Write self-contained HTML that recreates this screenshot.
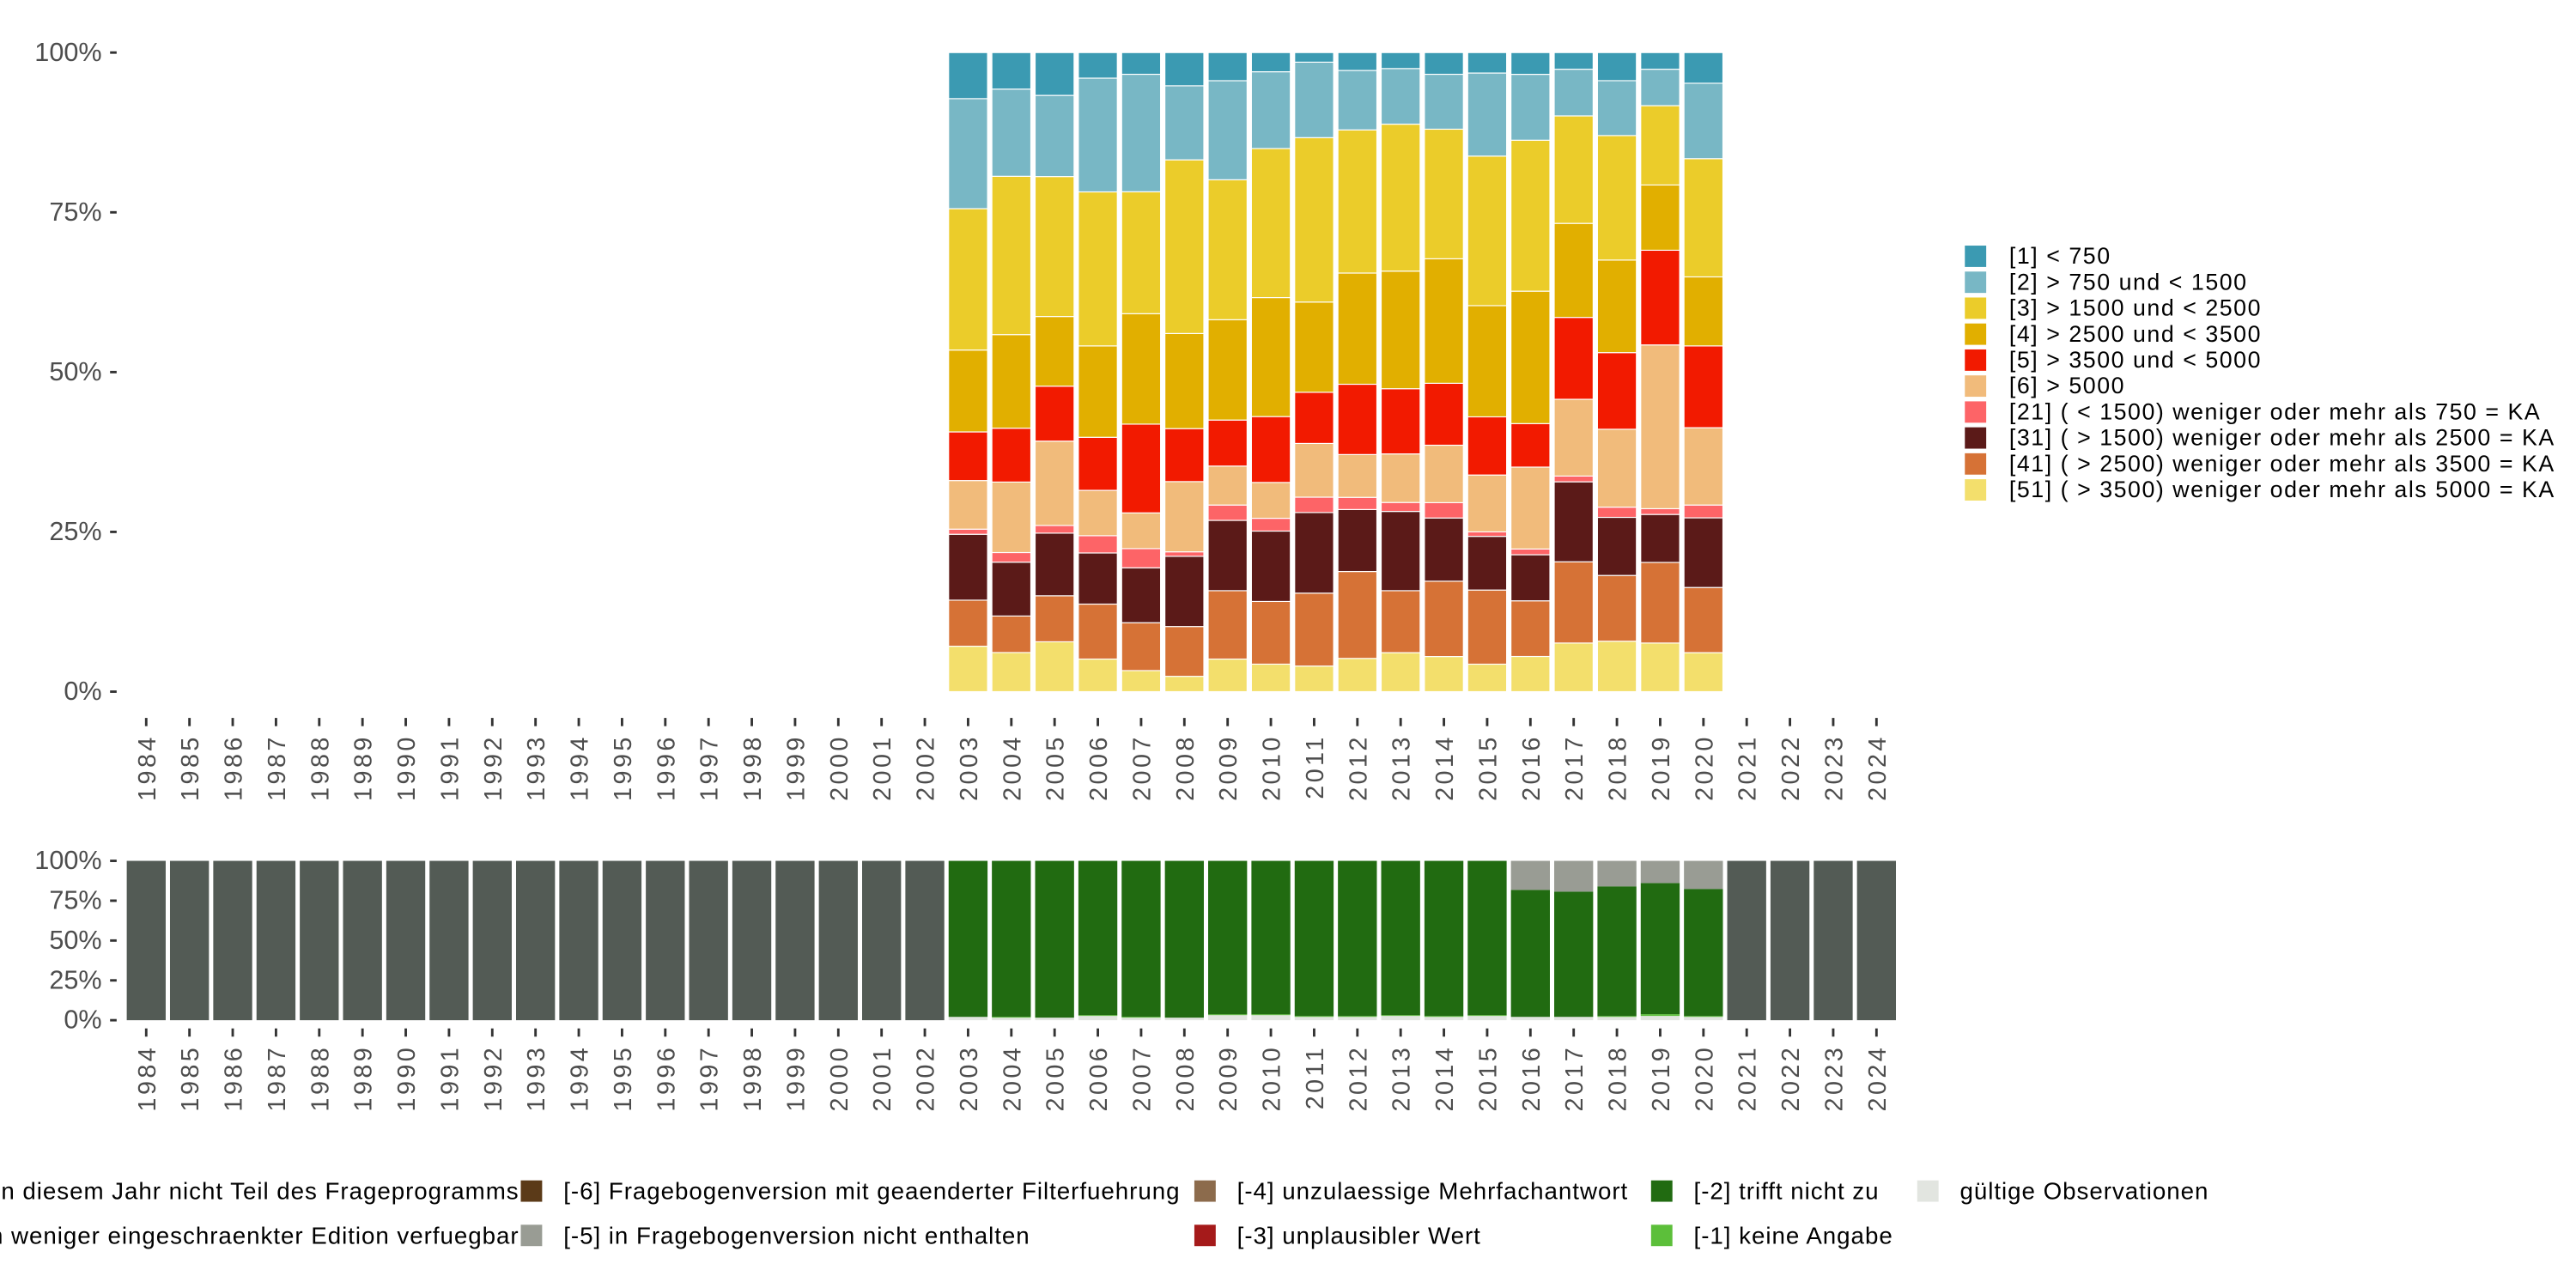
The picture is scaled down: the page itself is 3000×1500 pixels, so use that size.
<!DOCTYPE html>
<html><head><meta charset="utf-8"><style>
html,body{margin:0;padding:0;background:#fff}
svg{display:block}
text{font-family:"Liberation Sans",sans-serif}
</style></head><body>
<svg id="chart" xmlns="http://www.w3.org/2000/svg" width="3000" height="1500" viewBox="0 0 1568 784" preserveAspectRatio="none">
<g id="top"></g>
<g id="bottom"></g>
<g id="legTop"></g>
<g id="legBot"></g>
</svg>
<script>
const years = [];
for (let y = 1984; y <= 2024; y++) years.push(y);
const topYears = [2003,2004,2005,2006,2007,2008,2009,2010,2011,2012,2013,2014,2015,2016,2017,2018,2019,2020];
const catLabels = ["[51] ( > 3500) weniger oder mehr als 5000 = KA","[41] ( > 2500) weniger oder mehr als 3500 = KA","[31] ( > 1500) weniger oder mehr als 2500 = KA","[21] ( < 1500) weniger oder mehr als 750 = KA","[6] > 5000","[5] > 3500 und < 5000","[4] > 2500 und < 3500","[3] > 1500 und < 2500","[2] > 750 und < 1500","[1] < 750"];
const catColors = ["#f3df6c","#d67236","#5b1a18","#fd6467","#f1bb7b","#f21a00","#e1af00","#ebcc2a","#78b7c5","#3b9ab2"];
const s2003 = [7.1,7.2,10.3,0.8,7.6,7.6,12.8,22.1,17.2,7.2];
const s2004 = [6.1,5.7,8.4,1.5,11.0,8.4,14.6,24.7,13.6,5.7];
const s2005 = [7.8,7.2,9.8,1.2,13.2,8.6,10.9,21.9,12.7,6.7];
const s2006 = [5.1,8.6,8.0,2.7,7.1,8.3,14.3,24.1,17.8,4.0];
const s2007 = [3.3,7.5,8.6,3.0,5.6,13.9,17.3,19.1,18.4,3.4];
const s2008 = [2.4,7.8,11.0,0.7,11.0,8.3,14.9,27.2,11.6,5.2];
const s2009 = [5.1,10.7,11.0,2.4,6.1,7.2,15.7,21.9,15.5,4.4];
const s2010 = [4.3,9.8,11.0,2.0,5.6,10.3,18.6,23.3,12.0,3.0];
const s2011 = [4.0,11.4,12.6,2.4,8.4,8.0,14.1,25.7,11.8,1.5];
const s2012 = [5.2,13.6,9.7,1.9,6.7,11.0,17.4,22.4,9.3,2.8];
const s2013 = [6.1,9.7,12.4,1.4,7.6,10.2,18.4,23.0,8.7,2.5];
const s2014 = [5.5,11.8,9.9,2.4,9.0,9.7,19.5,20.3,8.6,3.4];
const s2015 = [4.3,11.6,8.4,0.7,8.9,9.1,17.4,23.4,13.0,3.2];
const s2016 = [5.5,8.7,7.2,0.9,12.8,6.8,20.7,23.6,10.3,3.4];
const s2017 = [7.6,12.7,12.5,0.9,12.0,12.8,14.7,16.8,7.3,2.6];
const s2018 = [7.9,10.3,9.1,1.6,12.2,12.0,14.5,19.5,8.6,4.4];
const s2019 = [7.6,12.6,7.5,0.9,25.6,14.8,10.2,12.4,5.7,2.6];
const s2020 = [6.1,10.2,10.9,2.0,12.1,12.8,10.8,18.5,11.8,4.8];
const topShares = [s2003,s2004,s2005,s2006,s2007,s2008,s2009,s2010,s2011,s2012,s2013,s2014,s2015,s2016,s2017,s2018,s2019,s2020];
const botValid  = [2.1,1.6,1.6,2.7,1.6,1.6,3.2,3.2,2.1,2.1,2.7,2.1,2.7,2.1,2.1,2.1,2.7,2.1];
const botKA     = [0,0.5,0,0.5,0.5,0,0.5,0.5,0.5,0.5,0.5,0.5,0.5,0,0,0.5,1.1,0.5];
const botTNZ    = [97.9,97.9,98.4,96.8,97.9,98.4,96.3,96.3,97.4,97.4,96.8,97.4,96.8,79.7,78.6,81.4,82.3,79.8];
const botNE     = [0,0,0,0,0,0,0,0,0,0,0,0,0,18.2,19.3,16.0,13.9,17.6];
const botColors = ["#e2e5e0","#5cbf3a","#216b11","#999c94"];
const botNotAsked = "#535b55";
const yTicks = [0,25,50,75,100];

const NS="http://www.w3.org/2000/svg";
function mk(tag, attrs, parent){const e=document.createElementNS(NS,tag);for(const k in attrs)e.setAttribute(k,attrs[k]);parent.appendChild(e);return e;}
const X0=89, STEP=26.33, BW=23.7;
const xc = yr => X0 + (yr-1984)*STEP;
const yTop = v => 421 - v*3.89;
const yBot = v => 621 - v*0.97;
const gT=document.getElementById('top'), gB=document.getElementById('bottom');

topYears.forEach((yr,i)=>{
  const sh=topShares[i]; const tot=sh.reduce((a,b)=>a+b,0); let acc=0;
  sh.forEach((v,k)=>{
    const p0=acc/tot*100, p1=(acc+v)/tot*100; acc+=v;
    const r=mk('rect',{x:xc(yr)-BW/2,y:yTop(p1),width:BW,height:yTop(p0)-yTop(p1),fill:catColors[k],stroke:'#fff','stroke-width':0.6},gT);
    
    
  });
});
years.forEach(yr=>{
  const i=topYears.indexOf(yr);
  if(i<0){
    const r=mk('rect',{x:xc(yr)-BW/2,y:yBot(100),width:BW,height:yBot(0)-yBot(100),fill:botNotAsked},gB);
    
    
  } else {
    const vals=[botValid[i],botKA[i],botTNZ[i],botNE[i]]; const tot=vals.reduce((a,b)=>a+b,0); let acc=0;
    vals.forEach((v,k)=>{
      if(v<=0) return;
      const p0=acc/tot*100,p1=(acc+v)/tot*100; acc+=v;
      const r=mk('rect',{x:xc(yr)-BW/2,y:yBot(p1),width:BW,height:yBot(p0)-yBot(p1),fill:botColors[k]},gB);
      
      
    });
  }
});
function axes(g, yf, tickY, labY, fs){
  yTicks.forEach(t=>{
    const l=mk('line',{x1:67,x2:71,y1:yf(t),y2:yf(t),stroke:'#333','stroke-width':1.5},g);
    
    
    const tx=mk('text',{x:62,y:yf(t)+5,'text-anchor':'end','font-size':fs,fill:'#4d4d4d'},g);
    tx.textContent=t+'%';
    
    
  });
  years.forEach(yr=>{
    const l=mk('line',{x1:xc(yr),x2:xc(yr),y1:tickY,y2:tickY+5,stroke:'#333','stroke-width':1.5},g);
    
    
    const tx=mk('text',{x:0,y:0,'text-anchor':'end','font-size':15,'letter-spacing':1.8,fill:'#4d4d4d',transform:`translate(${xc(yr)+5.5},${labY}) rotate(-90)`},g);
    tx.textContent=yr;
    
    
  });
}
axes(gT,yTop,437,447,16);
axes(gB,yBot,626,636,16);

const gL=document.getElementById('legTop');
for(let j=0;j<10;j++){
  const k=9-j, cy=156+j*15.8;
  const r=mk('rect',{x:1196,y:cy-6.5,width:13,height:13,fill:catColors[k]},gL);
  
  
  const t=mk('text',{x:1223,y:cy+4.5,'font-size':14,'letter-spacing':0.8,fill:'#000'},gL);
  t.textContent=catLabels[k];
  
  
}
const gM=document.getElementById('legBot');
const botLeg=[
 [null,316,725,"[-8] Frage in diesem Jahr nicht Teil des Frageprogramms",'end'],
 [null,316,752,"[-7] Nur in weniger eingeschraenkter Edition verfuegbar",'end'],
 ["#5b3a18",317,725,"[-6] Fragebogenversion mit geaenderter Filterfuehrung"],
 ["#999c94",317,752,"[-5] in Fragebogenversion nicht enthalten"],
 ["#8c6b4c",727,725,"[-4] unzulaessige Mehrfachantwort"],
 ["#a51a1a",727,752,"[-3] unplausibler Wert"],
 ["#216b11",1005,725,"[-2] trifft nicht zu"],
 ["#5cbf3a",1005,752,"[-1] keine Angabe"],
 ["#e2e5e0",1167,725,"gültige Observationen"]
];
botLeg.forEach(it=>{
  if(it[0]){
    const r=mk('rect',{x:it[1],y:it[2]-6.5,width:13,height:13,fill:it[0]},gM);
    
    
    const t=mk('text',{x:it[1]+26,y:it[2]+5,'font-size':14.5,'letter-spacing':0.5,fill:'#000'},gM);
    t.textContent=it[3];
    
    
  } else {
    const t=mk('text',{x:it[1],y:it[2]+5,'font-size':14.5,'letter-spacing':0.5,fill:'#000','text-anchor':'end'},gM);
    t.textContent=it[3];
    
    
  }
});
</script>
</body></html>
